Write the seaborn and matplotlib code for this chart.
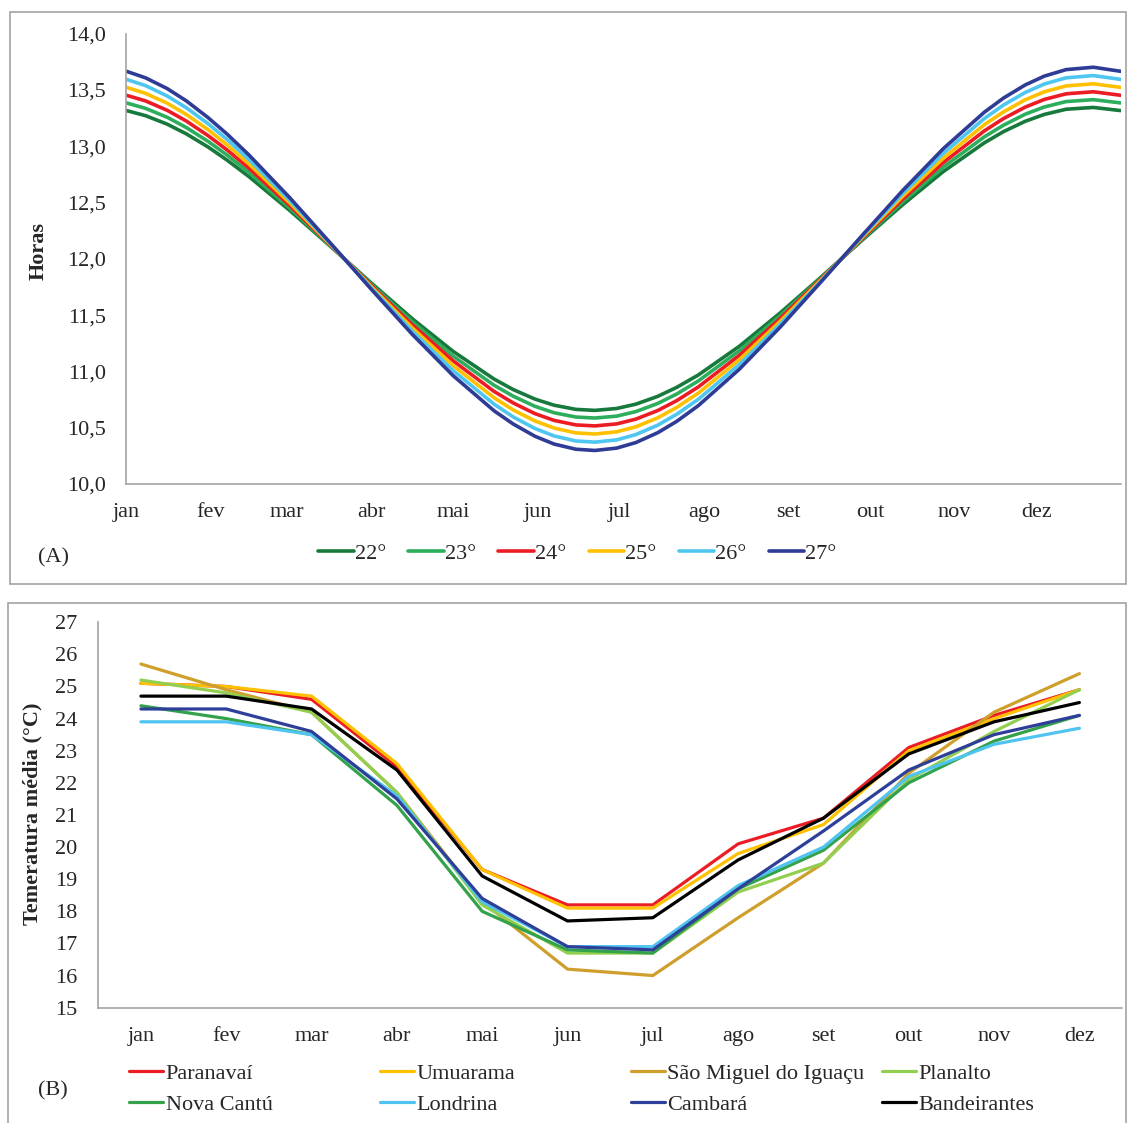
import pandas as pd
import numpy as np
import matplotlib.pyplot as plt
import seaborn as sns
from matplotlib.patches import Rectangle
from matplotlib.ticker import FuncFormatter

dias = [0, 7, 15, 22, 30, 37, 45, 60, 75, 90, 105, 120, 135, 142, 150, 157, 165, 172,
        180, 187, 195, 202, 210, 225, 240, 255, 270, 285, 300, 315, 322, 330, 337, 345,
        355, 365]

horas_22 = [13.317, 13.272, 13.196, 13.110, 12.993, 12.876, 12.730, 12.429, 12.109,
            11.783, 11.467, 11.177, 10.932, 10.839, 10.754, 10.700, 10.663, 10.654,
            10.671, 10.709, 10.778, 10.858, 10.969, 11.223, 11.519, 11.837, 12.163,
            12.481, 12.777, 13.031, 13.130, 13.222, 13.283, 13.329, 13.345, 13.317]
horas_23 = [13.385, 13.337, 13.257, 13.166, 13.043, 12.921, 12.767, 12.451, 12.114,
            11.772, 11.440, 11.135, 10.877, 10.780, 10.690, 10.633, 10.595, 10.586,
            10.603, 10.643, 10.715, 10.799, 10.916, 11.183, 11.494, 11.829, 12.171,
            12.506, 12.817, 13.084, 13.187, 13.285, 13.349, 13.397, 13.414, 13.385]
horas_24 = [13.453, 13.403, 13.319, 13.224, 13.094, 12.966, 12.805, 12.473, 12.120,
            11.761, 11.413, 11.093, 10.822, 10.720, 10.625, 10.565, 10.525, 10.516,
            10.534, 10.576, 10.652, 10.740, 10.863, 11.143, 11.470, 11.821, 12.179,
            12.530, 12.857, 13.137, 13.246, 13.348, 13.416, 13.466, 13.484, 13.453]
horas_25 = [13.523, 13.470, 13.382, 13.282, 13.147, 13.012, 12.843, 12.496, 12.125,
            11.750, 11.385, 11.050, 10.766, 10.658, 10.560, 10.497, 10.454, 10.444,
            10.464, 10.508, 10.587, 10.680, 10.808, 11.103, 11.444, 11.812, 12.188,
            12.556, 12.897, 13.192, 13.305, 13.413, 13.484, 13.536, 13.555, 13.523]
horas_26 = [13.594, 13.539, 13.446, 13.342, 13.200, 13.059, 12.882, 12.519, 12.131,
            11.738, 11.357, 11.006, 10.709, 10.596, 10.493, 10.427, 10.382, 10.372,
            10.392, 10.439, 10.522, 10.619, 10.753, 11.061, 11.419, 11.803, 12.197,
            12.581, 12.939, 13.247, 13.366, 13.478, 13.553, 13.608, 13.628, 13.594]
horas_27 = [13.666, 13.608, 13.512, 13.403, 13.254, 13.107, 12.922, 12.542, 12.137,
            11.727, 11.328, 10.961, 10.650, 10.533, 10.424, 10.355, 10.309, 10.298,
            10.319, 10.368, 10.455, 10.556, 10.697, 11.019, 11.393, 11.795, 12.205,
            12.607, 12.981, 13.303, 13.428, 13.545, 13.623, 13.681, 13.702, 13.666]

latitudes = ['22°', '23°', '24°', '25°', '26°', '27°']
cores_a = ['#17793b', '#2cae5c', '#ec1c24', '#ffc000', '#4ec6f0', '#2e3c96']

meses = ['jan', 'fev', 'mar', 'abr', 'mai', 'jun', 'jul', 'ago', 'set', 'out', 'nov', 'dez']
inicio_mes = [0, 31, 59, 90, 120, 151, 181, 212, 243, 273, 304, 334, 365]

# Panel B: mean monthly temperature (°C)
paranavai    = [25.1, 25.0, 24.6, 22.5, 19.3, 18.2, 18.2, 20.1, 20.9, 23.1, 24.1, 24.9]
umuarama     = [25.1, 25.0, 24.7, 22.6, 19.3, 18.1, 18.1, 19.8, 20.7, 23.0, 24.0, 24.9]
sao_miguel   = [25.7, 24.9, 24.2, 21.7, 18.3, 16.2, 16.0, 17.8, 19.5, 22.3, 24.2, 25.4]
planalto     = [25.2, 24.8, 24.2, 21.7, 18.2, 16.7, 16.7, 18.6, 19.5, 22.1, 23.6, 24.9]
nova_cantu   = [24.4, 24.0, 23.5, 21.3, 18.0, 16.8, 16.7, 18.7, 19.9, 22.0, 23.3, 24.1]
londrina     = [23.9, 23.9, 23.5, 21.6, 18.3, 16.9, 16.9, 18.8, 20.0, 22.2, 23.2, 23.7]
cambara      = [24.3, 24.3, 23.6, 21.5, 18.4, 16.9, 16.8, 18.7, 20.5, 22.4, 23.5, 24.1]
bandeirantes = [24.7, 24.7, 24.3, 22.4, 19.1, 17.7, 17.8, 19.6, 20.9, 22.9, 23.9, 24.5]

cidades = ['Paranavaí', 'Umuarama', 'São Miguel do Iguaçu', 'Planalto',
           'Nova Cantú', 'Londrina', 'Cambará', 'Bandeirantes']
cores_b = ['#ec1c24', '#ffc000', '#cf9f2b', '#92cf50', '#33a24a', '#4fc4f0', '#2e3f9a', '#000000']

sns.set_style('white')
plt.rcParams['font.family'] = ['Liberation Serif', 'DejaVu Serif']
plt.rcParams['font.size'] = 16
plt.rcParams['lines.solid_joinstyle'] = 'round'

cinza = '#a3a3a3'

df_a = pd.concat([pd.DataFrame({'dia': dias, 'horas': h, 'lat': lat})
                  for lat, h in zip(latitudes, [horas_22, horas_23, horas_24,
                                                horas_25, horas_26, horas_27])])

df_b = pd.concat([pd.DataFrame({'mes': np.arange(12), 'temp': t, 'cidade': c})
                  for c, t in zip(cidades, [paranavai, umuarama, sao_miguel, planalto,
                                            nova_cantu, londrina, cambara, bandeirantes])])

fig = plt.figure(figsize=(11.27, 11.23), dpi=100)

# frames around each panel
fig.add_artist(Rectangle((0.0093, 0.480), 0.990, 0.509, transform=fig.transFigure,
                         fill=False, edgecolor=cinza, lw=1.2))
fig.add_artist(Rectangle((0.0074, -0.01), 0.992, 0.4733, transform=fig.transFigure,
                         fill=False, edgecolor=cinza, lw=1.2))

# ---- Panel A
ax_a = fig.add_axes([0.1122, 0.5690, 0.8821, 0.4010])
sns.lineplot(data=df_a, x='dia', y='horas', hue='lat', palette=cores_a, estimator=None,
             sort=False, linewidth=2.6, legend=False, ax=ax_a)
ax_a.set_xlim(0, 365)
ax_a.set_ylim(10, 14)
ax_a.set_yticks(np.arange(10, 14.01, 0.5))
ax_a.yaxis.set_major_formatter(FuncFormatter(lambda v, p: f'{v:.1f}'.replace('.', ',')))
ax_a.set_xticks(inicio_mes)
ax_a.set_xticklabels(meses + [''])
ax_a.set_xlabel('')
ax_a.set_ylabel('')
ax_a.tick_params(axis='y', length=6, width=1.2, color=cinza, pad=9, labelsize=16)
ax_a.tick_params(axis='x', length=6, width=1.2, color=cinza, pad=8, labelsize=16)
sns.despine(ax=ax_a)
for s in ['left', 'bottom']:
    ax_a.spines[s].set_color(cinza)
    ax_a.spines[s].set_linewidth(1.2)

fig.text(0.0342, 0.7765, 'Horas', rotation=90, ha='center', va='center',
         fontsize=16, fontweight='bold')
fig.text(0.0337, 0.503, '(A)', ha='left', va='center', fontsize=16)

linhas_a = ax_a.get_lines()[:6]
fig.legend(linhas_a, latitudes, loc='center', bbox_to_anchor=(0.5124, 0.5067),
           ncol=6, frameon=False, fontsize=16, handlelength=1.6, handletextpad=0.05,
           columnspacing=1.0, borderpad=0, borderaxespad=0)

# ---- Panel B
ax_b = fig.add_axes([0.0872, 0.1027, 0.9084, 0.3432])
sns.lineplot(data=df_b, x='mes', y='temp', hue='cidade', palette=cores_b, estimator=None,
             sort=False, linewidth=2.3, legend=False, ax=ax_b)
ax_b.set_xlim(-0.5, 11.5)
ax_b.set_ylim(15, 27)
ax_b.set_yticks(range(15, 28))
ax_b.set_xticks(range(12))
ax_b.set_xticklabels(meses)
ax_b.set_xticks(np.arange(-0.5, 12, 1), minor=True)
ax_b.set_xlabel('')
ax_b.set_ylabel('')
ax_b.tick_params(axis='x', which='major', length=0, pad=14, labelsize=16)
ax_b.tick_params(axis='x', which='minor', length=6, width=1.2, color=cinza)
ax_b.tick_params(axis='y', length=7, width=1.2, color=cinza, pad=8, labelsize=16)
sns.despine(ax=ax_b)
for s in ['left', 'bottom']:
    ax_b.spines[s].set_color(cinza)
    ax_b.spines[s].set_linewidth(1.2)

fig.text(0.0290, 0.2752, 'Temeratura média (°C)', rotation=90, ha='center', va='center',
         fontsize=16, fontweight='bold')
fig.text(0.0337, 0.0285, '(B)', ha='left', va='center', fontsize=16)

# legend in Excel style: equal-width columns, two rows
linhas_b = ax_b.get_lines()[:8]
colunas_x = [0.1145, 0.3372, 0.5595, 0.7826]
for i, x in enumerate(colunas_x):
    fig.legend([linhas_b[i], linhas_b[i + 4]], [cidades[i], cidades[i + 4]],
               loc='center left', bbox_to_anchor=(x, 0.0303), frameon=False,
               fontsize=16, handlelength=1.55, handletextpad=0.1, labelspacing=0.45,
               borderpad=0, borderaxespad=0)

fig.savefig('out.png', dpi=100)
